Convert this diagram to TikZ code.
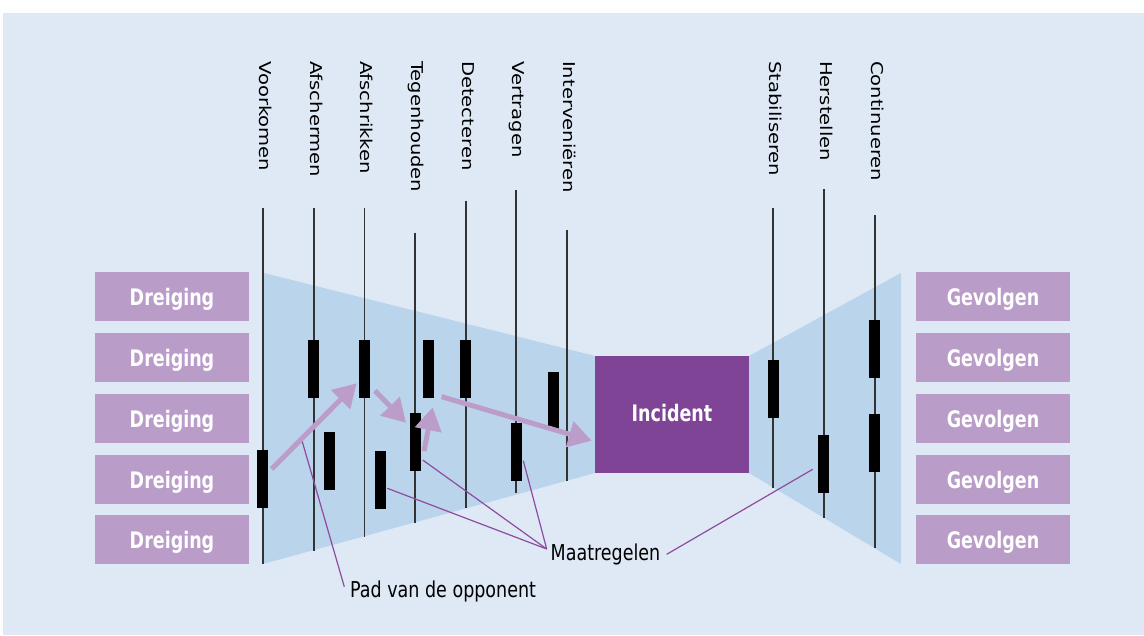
\documentclass[tikz,border=0pt]{standalone}
\usepackage{fontspec}
\setmainfont{DejaVu Sans}
\usetikzlibrary{arrows.meta}

\definecolor{panel}{HTML}{DEE9F5}
\definecolor{funnel}{HTML}{BAD4EC}
\definecolor{boxc}{HTML}{BA9CC9}
\definecolor{incidentc}{HTML}{7F4496}
\definecolor{pathc}{HTML}{BC9DCA}
\definecolor{leaderc}{HTML}{8E4BA0}
\definecolor{stemc}{HTML}{333333}

% tall horizontal text, long vertical text
\newcommand\tallH[1]{\scalebox{1}[1.25]{#1}}
\newcommand\tallB[1]{\scalebox{1}[1.3]{#1}}
\newcommand\longV[1]{\scalebox{1.2}[1]{#1}}

\begin{document}
\begin{tikzpicture}[x=1pt,y=-1pt,
  stem/.style={draw=stemc,line width=1.6pt},
  vlabel/.style={rotate=-90,anchor=base west,inner sep=0pt,font=\fontsize{16.3}{18}\selectfont},
  sidebox/.style={fill=boxc,text=white,minimum width=154pt,minimum height=49pt,inner sep=0pt,
    text height=17.6pt,text depth=0pt,font=\bfseries\fontsize{17.5}{20}\selectfont},
  incbox/.style={fill=incidentc,text=white,minimum width=154pt,minimum height=117pt,inner sep=0pt,
    text height=14.8pt,text depth=0pt,font=\bfseries\fontsize{17.5}{20}\selectfont},
  bar/.style={fill=black,minimum width=11pt,minimum height=58pt,inner sep=0pt},
  oppstep/.style={draw=pathc,line width=5pt,-{Triangle[length=23pt,width=26pt]}},
  leader/.style={draw=leaderc,line width=1.2pt},
  note/.style={anchor=base west,inner sep=0pt,font=\fontsize{17.5}{20}\selectfont}]

\useasboundingbox (0,0) rectangle (1144,635);
\fill[panel] (3,13) rectangle (1144,635);

% funnels
\fill[funnel] (263,272.7) -- (595,356) -- (595,473) -- (263,564) -- cycle;
\fill[funnel] (749,356) -- (901,273) -- (901,564) -- (749,473) -- cycle;

% measure lines with their labels
\foreach \x/\t/\b/\lab in {
  262.7/207.7/564/Voorkomen,
  313.7/207.7/550.7/Afschermen,
  364.3/207.7/536.7/Afschrikken,
  415/232.7/523/Tegenhouden,
  465.7/200.7/508/Detecteren,
  516/190/493/Vertragen,
  566.7/230/480.7/Interveniëren,
  773/207.7/488/Stabiliseren,
  823.7/189/517.7/Herstellen,
  874.7/215/548/Continueren}{
  \draw[stem] (\x,\t) -- (\x,\b);
  \node[vlabel] (lab-\lab) at (\x-3.5,61) {\longV{\lab}};
}

% threats and consequences
\foreach \i/\y in {1/296.5,2/357.5,3/418.5,4/479.5,5/539.5}{
  \node[sidebox] (threat\i) at (172,\y) {\tallB{Dreiging}};
  \node[sidebox] (cons\i) at (993,\y) {\tallB{Gevolgen}};
}

\node[incbox] (inc) at (672,414.3) {\tallB{Incident}};

% measures
\node[bar] (b1) at (262.7,479) {};
\node[bar] (b2) at (313.7,369) {};
\node[bar] (b3) at (329.8,461) {};
\node[bar] (b4) at (364.3,369) {};
\node[bar] (b5) at (380.5,480) {};
\node[bar] (b6) at (428.5,369) {};
\node[bar] (b7) at (415,442) {};
\node[bar] (b8) at (465.7,369) {};
\node[bar] (b9) at (553.5,401) {};
\node[bar] (b10) at (516,452) {};
\node[bar] (b11) at (773,389) {};
\node[bar] (b12) at (823.7,464) {};
\node[bar] (b13) at (874.7,349) {};
\node[bar] (b14) at (874.7,443) {};

% path of the opponent
\coordinate (p0) at (271.7,469);
\coordinate (p1) at (356.7,383.3);
\coordinate (p2) at (375,390.7);
\coordinate (p3) at (406,422.7);
\coordinate (p4) at (424,451);
\coordinate (p5) at (432.7,407.3);
\coordinate (p6) at (441.7,396.7);
\coordinate (p7) at (591.7,440.7);
\draw[oppstep] (p0) -- (p1);
\draw[oppstep] (p2) -- (p3);
\draw[oppstep] (p4) -- (p5);
\draw[oppstep] (p6) -- (p7);

% callouts
\node[note] (pad) at (350,597.3) {\tallH{Pad van de opponent}};
\node[note] (maat) at (550.5,560.7) {\tallH{Maatregelen}};

\coordinate (padA) at (302.3,441.7);
\coordinate (padB) at (344.3,586.7);
\draw[leader] (padA) -- (padB);

\coordinate (mhub) at (546.7,549);
\coordinate (m5) at (387.3,488.3);
\coordinate (m7) at (422.7,460);
\coordinate (m10) at (523.3,460.7);
\coordinate (mright) at (666.7,554.3);
\coordinate (m12) at (812.7,469.3);
\draw[leader] (m5) -- (mhub);
\draw[leader] (m7) -- (mhub);
\draw[leader] (m10) -- (mhub);
\draw[leader] (mright) -- (m12);

\end{tikzpicture}
\end{document}
